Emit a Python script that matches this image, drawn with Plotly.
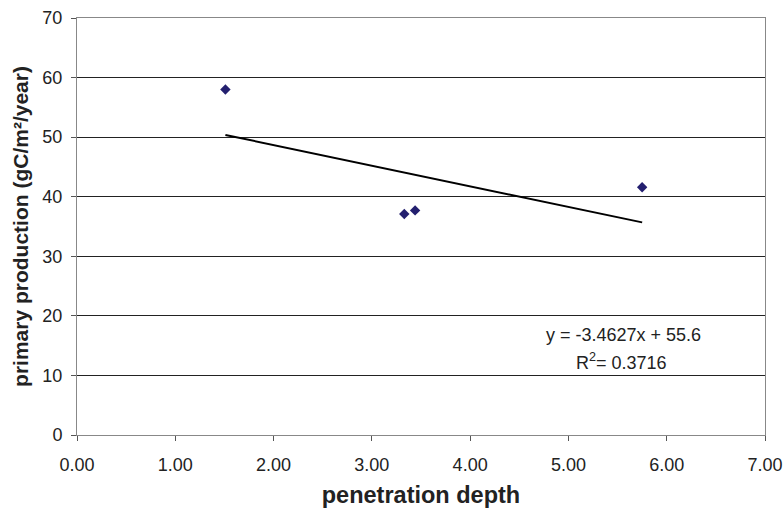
import plotly.graph_objects as go

depth = [1.51, 3.33, 3.44, 5.75]
production = [58.0, 37.1, 37.7, 41.6]
slope = -3.4627
intercept = 55.6
eq_text = "y = -3.4627x + 55.6"
r2_text = "R<sup>2</sup>= 0.3716"
x_ticks = [0, 1, 2, 3, 4, 5, 6, 7]
y_ticks = [0, 10, 20, 30, 40, 50, 60, 70]

trend_x = [min(depth), max(depth)]
trend_y = [slope * v + intercept for v in trend_x]

FONT = "Arial, Liberation Sans, sans-serif"

fig = go.Figure()
fig.add_trace(go.Scatter(x=depth, y=production, mode="markers",
                         marker=dict(symbol="diamond", size=8, color="#231f6f"),
                         showlegend=False))
fig.add_trace(go.Scatter(x=trend_x, y=trend_y, mode="lines",
                         line=dict(color="black", width=2), showlegend=False))

fig.add_annotation(x=5.56, y=16.8, xref="x", yref="y", text=eq_text, showarrow=False,
                   font=dict(family=FONT, size=18, color="#222"))
fig.add_annotation(x=5.54, y=12.3, xref="x", yref="y", text=r2_text, showarrow=False,
                   font=dict(family=FONT, size=18, color="#222"))

fig.update_layout(
    width=784, height=508,
    margin=dict(l=77, r=19, t=18, b=73, autoexpand=False),
    plot_bgcolor="white", paper_bgcolor="white",
    font=dict(family=FONT, size=18, color="#222"),
)
fig.update_xaxes(range=[0, 7], tickvals=x_ticks,
                 ticktext=[f"{v:.2f}" for v in x_ticks],
                 showgrid=False, zeroline=False, automargin=False,
                 showline=True, linecolor="#888", linewidth=1, mirror=True,
                 ticks="outside", ticklen=5, tickcolor="#555",
                 ticklabelstandoff=8,
                 title=dict(text="<b>penetration depth</b>", font=dict(size=23.5), standoff=12))
fig.update_yaxes(range=[0, 70], tickvals=y_ticks,
                 showgrid=True, gridcolor="#222", gridwidth=1, zeroline=False, automargin=False,
                 showline=True, linecolor="#888", linewidth=1, mirror=True,
                 ticks="outside", ticklen=5, tickcolor="#555",
                 ticklabelstandoff=5,
                 title=dict(text="<b>primary production (gC/m²/year)</b>", font=dict(size=21), standoff=8))

fig.write_html("out.html")
